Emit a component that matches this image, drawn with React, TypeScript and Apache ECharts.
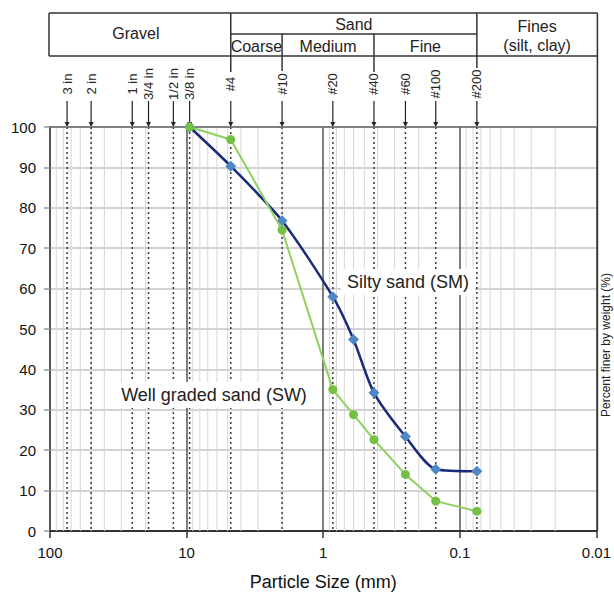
import React, { useEffect, useRef } from 'react';
import * as echarts from 'echarts';

// Sieve openings (mm) and their labels
const sieveSizes = [75, 50, 25, 19, 12.5, 9.5, 4.75, 2, 0.85, 0.425, 0.25, 0.15, 0.075];
const sieveLabels = ['3 in', '2 in', '1 in', '3/4 in', '1/2 in', '3/8 in', '#4', '#10', '#20', '#40', '#60', '#100', '#200'];

// Well graded sand (SW)
const swSizes = [9.5, 4.75, 2, 0.85, 0.6, 0.425, 0.25, 0.15, 0.075];
const swPassing = [100, 96.9, 74.5, 35, 28.8, 22.6, 14.0, 7.4, 4.9];

// Silty sand (SM)
const smSizes = [9.5, 4.75, 2, 0.85, 0.6, 0.425, 0.25, 0.15, 0.075];
const smPassing = [100, 90.3, 76.8, 58, 47.4, 34.2, 23.4, 15.3, 14.8];

// Classification boundaries (mm)
const gravelSand = 4.75;
const coarseMedium = 2;
const mediumFine = 0.425;
const sandFines = 0.075;

// Minor log grid
const decades = [0.01, 0.1, 1, 10];
const minorMultipliers = [2, 3, 4, 5, 6, 7, 8, 9];

const FONT = '"Liberation Sans", Arial, sans-serif';

export default function App() {
  const ref = useRef<HTMLDivElement>(null);

  useEffect(() => {
    if (!ref.current) return;
    const chart = echarts.init(ref.current, undefined, { renderer: 'svg' });

    const minorValues: number[][] = [];
    decades.forEach((d) => minorMultipliers.forEach((m) => minorValues.push([d * m, 50])));

    const option: any = {
      animation: false,
      backgroundColor: '#ffffff',
      textStyle: { fontFamily: FONT },
      grid: { left: 50, right: 16, top: 127, bottom: 62, containLabel: false },
      xAxis: {
        type: 'log',
        logBase: 10,
        min: 0.01,
        max: 100,
        inverse: true,
        axisLine: { show: true, lineStyle: { color: '#333', width: 2 } },
        axisTick: { show: true, length: 7, lineStyle: { color: '#333', width: 1.5 } },
        axisLabel: {
          fontSize: 15,
          color: '#111',
          margin: 14,
          fontFamily: FONT,
          formatter: (v: number) => String(parseFloat(v.toPrecision(6))),
        },
        splitLine: { show: true, lineStyle: { color: '#555', width: 1.5 } },
        minorTick: { show: false },
        name: 'Particle Size (mm)',
        nameLocation: 'middle',
        nameGap: 42,
        nameTextStyle: { fontSize: 18, color: '#111', fontFamily: FONT },
      },
      yAxis: {
        type: 'value',
        min: 0,
        max: 100,
        interval: 10,
        axisLine: { show: true, lineStyle: { color: '#555', width: 2 } },
        axisTick: { show: true, length: 6, lineStyle: { color: '#999', width: 1.5 } },
        axisLabel: { fontSize: 15, color: '#111', margin: 14, fontFamily: FONT },
        splitLine: { show: true, lineStyle: { color: '#c4c4c4', width: 1.5 } },
      },
      series: [
        {
          type: 'custom',
          name: 'minor',
          silent: true,
          clip: false,
          z: 1,
          data: minorValues,
          renderItem: (params: any, api: any) => {
            const p0 = api.coord([api.value(0), 0]);
            const p1 = api.coord([api.value(0), 100]);
            return {
              type: 'line',
              shape: { x1: p0[0], y1: p0[1], x2: p1[0], y2: p1[1] },
              style: { stroke: '#d6d6d6', lineWidth: 1 },
            };
          },
        },
        {
          type: 'custom',
          name: 'sieves',
          silent: true,
          clip: false,
          z: 2,
          data: sieveSizes.map((s, i) => [s, 50, i]),
          renderItem: (params: any, api: any) => {
            const x = api.coord([api.value(0), 0])[0];
            const yb = api.coord([api.value(0), 0])[1];
            const yt = api.coord([api.value(0), 100])[1];
            const label = sieveLabels[api.value(2)];
            return {
              type: 'group',
              children: [
                {
                  type: 'line',
                  shape: { x1: x, y1: yt, x2: x, y2: yb },
                  style: { stroke: '#3a3a3a', lineWidth: 1.5, lineDash: [2, 3] },
                },
                {
                  type: 'line',
                  shape: { x1: x, y1: 101, x2: x, y2: yt - 3 },
                  style: { stroke: '#222', lineWidth: 1.2 },
                },
                {
                  type: 'polygon',
                  shape: { points: [[x - 2.5, yt - 5], [x + 2.5, yt - 5], [x, yt]] },
                  style: { fill: '#222' },
                },
                {
                  type: 'text',
                  x: x,
                  y: 84,
                  rotation: Math.PI / 2,
                  style: {
                    text: label,
                    font: '13px ' + FONT,
                    fill: '#222',
                    align: 'center',
                    verticalAlign: 'middle',
                  },
                },
              ],
            };
          },
        },
        {
          type: 'custom',
          name: 'header',
          silent: true,
          clip: false,
          z: 2,
          data: [[1, 50]],
          renderItem: (params: any, api: any) => {
            const X = (v: number) => api.coord([v, 50])[0];
            const yTop100 = api.coord([1, 100])[1];
            const left = X(100) - 1;
            const right = X(0.01) + 1;
            const top = 13;
            const mid = 34;
            const bot = 56;
            const xg = X(gravelSand);
            const xc = X(coarseMedium);
            const xm = X(mediumFine);
            const xf = X(sandFines);
            const stroke = '#333';
            const ln = (x1: number, y1: number, x2: number, y2: number, w = 1.5, c = stroke) => ({
              type: 'line',
              shape: { x1, y1, x2, y2 },
              style: { stroke: c, lineWidth: w },
            });
            const tx = (text: string, x: number, y: number) => ({
              type: 'text',
              x,
              y,
              style: { text, font: '16px ' + FONT, fill: '#222', align: 'center', verticalAlign: 'middle' },
            });
            return {
              type: 'group',
              children: [
                ln(left, top, right, top),
                ln(left, bot, right, bot),
                ln(left, top, left, bot),
                ln(right, top, right, api.coord([0.01, 0])[1]),
                ln(xg, mid, xf, mid),
                ln(xg, top, xg, 72),
                ln(xf, top, xf, 68),
                ln(xc, mid, xc, 71),
                ln(xm, mid, xm, 72),
                ln(X(100), yTop100, X(0.01), yTop100, 1.5, '#666'),
                tx('Gravel', (left + xg) / 2 - 4, 33),
                tx('Sand', (xg + xf) / 2, 24),
                tx('Coarse', (xg + xc) / 2, 46),
                tx('Medium', (xc + xm) / 2, 46),
                tx('Fine', (xm + xf) / 2, 46),
                tx('Fines', (xf + right) / 2, 26),
                tx('(silt, clay)', (xf + right) / 2, 45),
              ],
            };
          },
        },
        {
          type: 'line',
          name: 'Silty sand (SM)',
          z: 3,
          smooth: 0.25,
          data: smSizes.map((s, i) => [s, smPassing[i]]),
          symbol: 'diamond',
          symbolSize: 11,
          lineStyle: { color: '#1b2a78', width: 2.5 },
          itemStyle: { color: '#4f86c6' },
        },
        {
          type: 'line',
          name: 'Well graded sand (SW)',
          z: 4,
          data: swSizes.map((s, i) => [s, swPassing[i]]),
          symbol: 'circle',
          symbolSize: 9,
          lineStyle: { color: '#8fd15f', width: 2 },
          itemStyle: { color: '#74c043' },
        },
      ],
      graphic: [
        {
          type: 'text',
          x: 408,
          y: 282,
          z: 10,
          style: {
            text: 'Silty sand (SM)',
            font: '18px ' + FONT,
            fill: '#222',
            align: 'center',
            verticalAlign: 'middle',
            backgroundColor: '#fff',
            padding: [4, 6, 4, 6],
          },
        },
        {
          type: 'text',
          x: 214,
          y: 395,
          z: 10,
          style: {
            text: 'Well graded sand (SW)',
            font: '18px ' + FONT,
            fill: '#222',
            align: 'center',
            verticalAlign: 'middle',
            backgroundColor: '#fff',
            padding: [4, 3, 4, 3],
          },
        },
        {
          type: 'text',
          x: 606,
          y: 345,
          rotation: Math.PI / 2,
          z: 10,
          style: {
            text: 'Percent finer by weight (%)',
            font: '12px ' + FONT,
            fill: '#222',
            align: 'center',
            verticalAlign: 'middle',
          },
        },
      ],
    };

    chart.setOption(option);
    return () => chart.dispose();
  }, []);

  return (
    <div
      ref={ref}
      style={{ position: 'fixed', left: 0, top: 0, width: 614, height: 596, background: '#fff' }}
    />
  );
}
